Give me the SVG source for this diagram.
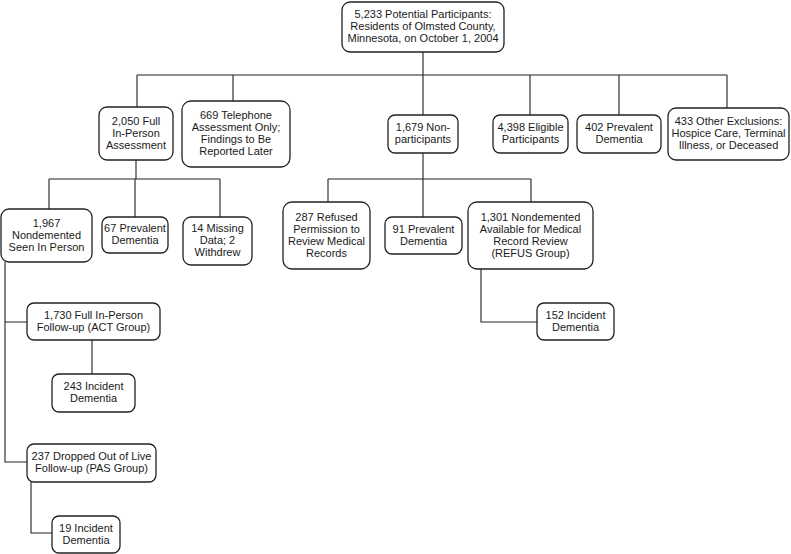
<svg xmlns="http://www.w3.org/2000/svg" width="791" height="554" viewBox="0 0 791 554">
<style>
.box{fill:#fff;stroke:#222;stroke-width:1.3}
.c{fill:none;stroke:#222;stroke-width:1.1}
text{font-family:"Liberation Sans",Arial,sans-serif;font-size:11px;fill:#1a1a1a;text-anchor:middle}
</style>
<rect width="791" height="554" fill="#fff"/>
<g id="connectors">
<path class="c" d="M423,52V75M137,75H727M137,75V107M233,75V101M423,75V115M530,75V115M619,75V115M727,75V108"/>
<path class="c" d="M136,160V179M49,179H220M49,179V209M135,179V217M220,179V217"/>
<path class="c" d="M423,153V179M328,179H531M328,179V202M423,179V217M531,179V202"/>
<path class="c" d="M481,269V322H537"/>
<path class="c" d="M5,262V462H27M5,322H27"/>
<path class="c" d="M92,340V374"/>
<path class="c" d="M31,482V533H52"/>
</g>
<g id="n5233"><rect class="box" x="342" y="2" width="162" height="50" rx="8"/><text x="423" y="18">5,233 Potential Participants:</text><text x="423" y="30">Residents of Olmsted County,</text><text x="423" y="42">Minnesota, on October 1, 2004</text></g>
<g id="n2050"><rect class="box" x="99" y="107" width="74" height="53" rx="8"/><text x="136" y="124.5">2,050 Full</text><text x="136" y="136.5">In-Person</text><text x="136" y="148.5">Assessment</text></g>
<g id="n669"><rect class="box" x="182" y="101" width="108" height="66" rx="9"/><text x="236" y="119">669 Telephone</text><text x="236" y="131">Assessment Only;</text><text x="236" y="143">Findings to Be</text><text x="236" y="155">Reported Later</text></g>
<g id="n1679"><rect class="box" x="388" y="115" width="70" height="38" rx="7"/><text x="423" y="131">1,679 Non-</text><text x="423" y="143">participants</text></g>
<g id="n4398"><rect class="box" x="493" y="115" width="75" height="38" rx="7"/><text x="530.5" y="131">4,398 Eligible</text><text x="530.5" y="143">Participants</text></g>
<g id="n402"><rect class="box" x="577" y="115" width="84" height="38" rx="7"/><text x="619" y="131">402 Prevalent</text><text x="619" y="143">Dementia</text></g>
<g id="n433"><rect class="box" x="668" y="108" width="121" height="52" rx="8"/><text x="728.5" y="125">433 Other Exclusions:</text><text x="728.5" y="137">Hospice Care, Terminal</text><text x="728.5" y="149">Illness, or Deceased</text></g>
<g id="n1967"><rect class="box" x="1" y="209" width="91" height="53" rx="8"/><text x="46.5" y="226.5">1,967</text><text x="46.5" y="238.5">Nondemented</text><text x="46.5" y="250.5">Seen In Person</text></g>
<g id="n67"><rect class="box" x="102" y="217" width="66" height="36" rx="7"/><text x="135" y="232">67 Prevalent</text><text x="135" y="244">Dementia</text></g>
<g id="n14"><rect class="box" x="183" y="217" width="69" height="48" rx="8"/><text x="217.5" y="232">14 Missing</text><text x="217.5" y="244">Data; 2</text><text x="217.5" y="256">Withdrew</text></g>
<g id="n287"><rect class="box" x="283" y="202" width="87" height="67" rx="9"/><text x="326.5" y="220.5">287 Refused</text><text x="326.5" y="232.5">Permission to</text><text x="326.5" y="244.5">Review Medical</text><text x="326.5" y="256.5">Records</text></g>
<g id="n91"><rect class="box" x="385" y="217" width="77" height="37" rx="7"/><text x="423.5" y="232.5">91 Prevalent</text><text x="423.5" y="244.5">Dementia</text></g>
<g id="n1301"><rect class="box" x="468" y="202" width="125" height="67" rx="9"/><text x="530.5" y="220.5">1,301 Nondemented</text><text x="530.5" y="232.5">Available for Medical</text><text x="530.5" y="244.5">Record Review</text><text x="530.5" y="256.5">(REFUS Group)</text></g>
<g id="n152"><rect class="box" x="537" y="303" width="77" height="37" rx="7"/><text x="575.5" y="318.5">152 Incident</text><text x="575.5" y="330.5">Dementia</text></g>
<g id="n1730"><rect class="box" x="27" y="303" width="133" height="37" rx="7"/><text x="93.5" y="318.5">1,730 Full In-Person</text><text x="93.5" y="330.5">Follow-up (ACT Group)</text></g>
<g id="n243"><rect class="box" x="52" y="374" width="83" height="38" rx="7"/><text x="93.5" y="390">243 Incident</text><text x="93.5" y="402">Dementia</text></g>
<g id="n237"><rect class="box" x="27" y="444" width="129" height="38" rx="7"/><text x="91.5" y="460">237 Dropped Out of Live</text><text x="91.5" y="472">Follow-up (PAS Group)</text></g>
<g id="n19"><rect class="box" x="52" y="516" width="68" height="37" rx="7"/><text x="86" y="531.5">19 Incident</text><text x="86" y="543.5">Dementia</text></g>
</svg>
